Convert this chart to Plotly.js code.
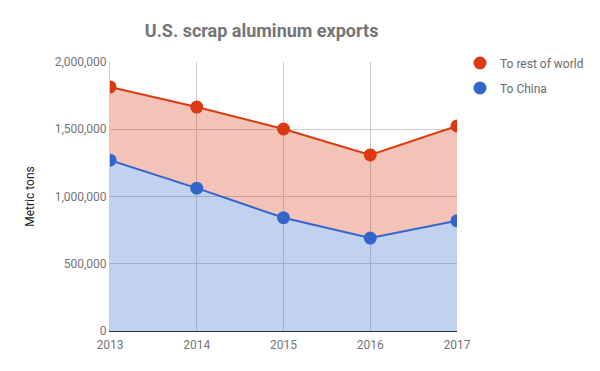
<!DOCTYPE html>
<html>
<head>
<meta charset="utf-8">
<script src="https://cdn.plot.ly/plotly-3.0.1.min.js"></script>
<style>html,body{margin:0;padding:0;background:#fff;}#chart{width:600px;height:371px;}</style>
</head>
<body>
<div id="chart"></div>
<script>
const years = [2013, 2014, 2015, 2016, 2017];
const toChina = [1270000, 1062000, 842000, 691000, 819000];
const toRestOfWorld = [545000, 603000, 660000, 618000, 705000];
const seriesNames = ["To China", "To rest of world"];
const yTicks = [0, 500000, 1000000, 1500000, 2000000];

const red = "#dc3912", blue = "#3366cc";

const traces = [
  {x: years, y: toChina, name: seriesNames[0], stackgroup: "s", mode: "lines+markers",
   line: {color: blue, width: 2}, marker: {size: 13, color: blue},
   fillcolor: "rgba(51,102,204,0.3)", showlegend: false, hoverinfo: "x+y"},
  {x: years, y: toRestOfWorld, name: seriesNames[1], stackgroup: "s", mode: "lines+markers",
   line: {color: red, width: 2}, marker: {size: 13, color: red},
   fillcolor: "rgba(220,57,18,0.3)", showlegend: false, hoverinfo: "x+y"},
  {x: [null], y: [null], name: seriesNames[1], mode: "markers", marker: {size: 13, color: red}, legend: "legend"},
  {x: [null], y: [null], name: seriesNames[0], mode: "markers", marker: {size: 13, color: blue}, legend: "legend2"}
];

const legendBase = {xref: "container", yref: "container", xanchor: "left", yanchor: "middle",
  font: {family: "Roboto", size: 12, color: "#6b6b6b"}, bgcolor: "rgba(0,0,0,0)", itemwidth: 30};

const layout = {
  width: 600, height: 371,
  margin: {l: 110, r: 143, t: 62, b: 40},
  paper_bgcolor: "#fff", plot_bgcolor: "#fff",
  font: {family: "Roboto", size: 12, color: "#757575"},
  title: {text: "<b>U.S. scrap aluminum exports</b>", x: 0.436, xanchor: "center", y: 1 - 31/371, yanchor: "middle",
          xref: "container", yref: "container", font: {family: "Roboto", size: 18, color: "#757575"}},
  xaxis: {range: [2013, 2017], tickvals: years, ticktext: years.map(String), showgrid: true, gridcolor: "#cccccc",
          zeroline: false, showline: true, linecolor: "#333", linewidth: 1, ticks: "", fixedrange: true,
          ticklabelstandoff: 3, tickfont: {size: 12, color: "#757575"}},
  yaxis: {range: [0, 2000000], tickvals: yTicks, ticktext: yTicks.map(v => v.toLocaleString("en-US")),
          showgrid: true, gridcolor: "#cccccc", zeroline: false, showline: true, linecolor: "#cccccc",
          ticks: "", fixedrange: true, tickfont: {size: 12, color: "#757575"},
          title: {text: "Metric tons", font: {size: 12, color: "#222"}, standoff: 17}},
  legend: Object.assign({}, legendBase, {x: 460/600, y: 1 - 63/371}),
  legend2: Object.assign({}, legendBase, {x: 460/600, y: 1 - 88/371}),
  hovermode: "closest"
};

Plotly.newPlot("chart", traces, layout, {displayModeBar: false});
</script>
</body>
</html>
